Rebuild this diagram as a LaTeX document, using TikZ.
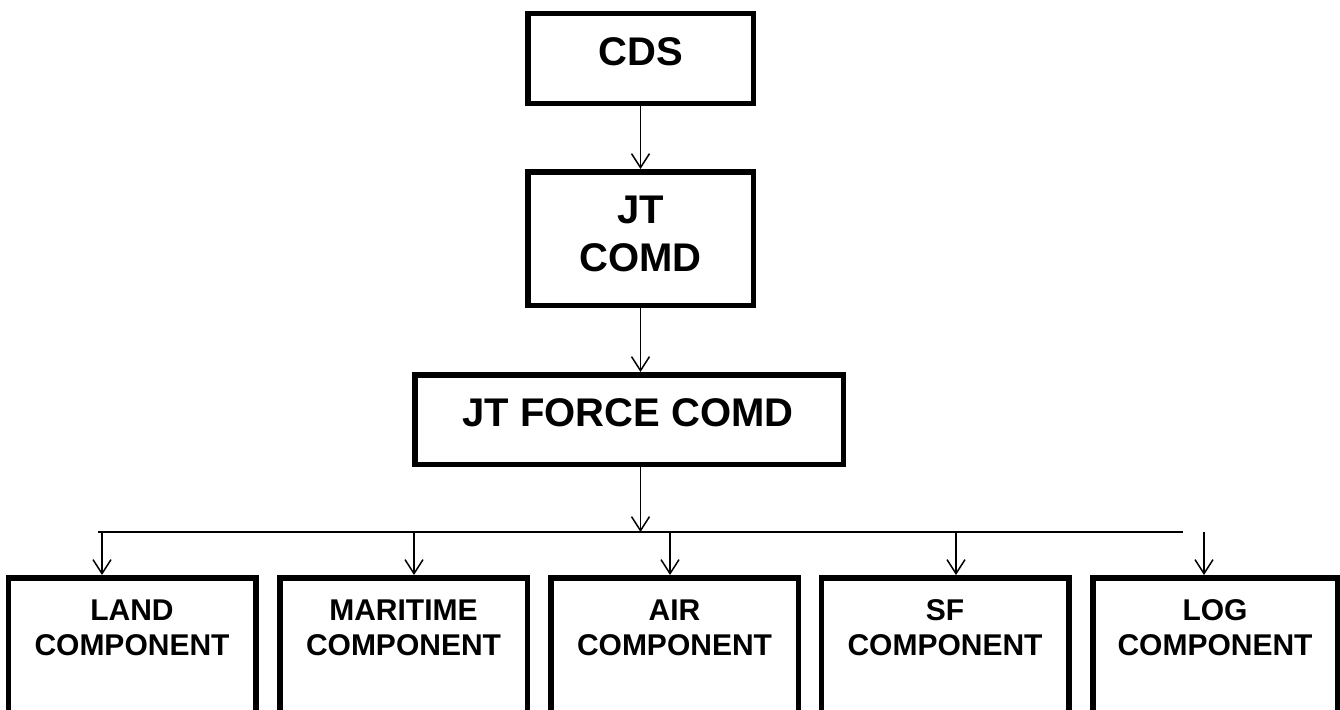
\documentclass[tikz,border=0pt]{standalone}
\usepackage{fontspec}
\setmainfont{Liberation Sans}
\usetikzlibrary{arrows.meta}
\begin{document}
\begin{tikzpicture}[x=1pt,y=-1pt,
  box/.style={draw, line width=5.5pt, inner sep=0pt},
  topbox/.style={box, minimum width=225.5pt},
  botbox/.style={box, minimum width=247.5pt, minimum height=222pt},
  toptext/.style={inner sep=0pt, align=center, font=\fontsize{40}{48.6}\selectfont\bfseries},
  bottext/.style={inner sep=0pt, align=center, font=\fontsize{30}{35}\selectfont\bfseries},
  wire/.style={line width=1.5pt},
  conn/.style={wire, -{Straight Barb[length=14pt,width=18pt,line width=1.5pt]}}]
\useasboundingbox (0,0) rectangle (1340,709);
\clip (0,0) rectangle (1340,709);

% top chain
\node[topbox, minimum height=89.5pt] (cds) at (640.5,58.5) {};
\node[toptext] (cdst) at (640.8,52) {CDS};
\node[topbox, minimum height=133.5pt] (jtc) at (640.5,238.5) {};
\node[toptext] (jtct) at (640.5,234) {JT\\COMD};
\node[box, minimum width=428.5pt, minimum height=89.5pt] (jtf) at (629,419.5) {};
\node[toptext] (jtft) at (628,412.8) {JT FORCE COMD};

% bottom components
\node[botbox] (land) at (132,688.75) {};
\node[bottext] (landt) at (132,627.5) {LAND\\COMPONENT};
\node[botbox] (mari) at (403.5,688.75) {};
\node[bottext] (marit) at (403.5,627.5) {MARITIME\\COMPONENT};
\node[botbox] (air) at (674.5,688.75) {};
\node[bottext] (airt) at (674.5,627.5) {AIR\\COMPONENT};
\node[botbox] (sf) at (945,688.75) {};
\node[bottext] (sft) at (945,627.5) {SF\\COMPONENT};
\node[botbox, minimum width=244.5pt] (log) at (1215,688.75) {};
\node[bottext] (logt) at (1215,627.5) {LOG\\COMPONENT};

% connectors
\coordinate (hub) at (640.5,532);
\coordinate (hl) at (98,532);
\coordinate (hr) at (1183,532);
\coordinate (a1) at (102,532);
\coordinate (a2) at (414,532);
\coordinate (a3) at (670,532);
\coordinate (a4) at (956,532);
\coordinate (a5) at (1204,532);

\draw[conn] (cds.south) -- (cds.south |- jtc.north);
\draw[conn] (jtc.south) -- (jtc.south |- jtf.north);
\draw[conn] (hub |- jtf.south) -- (hub);
\draw[wire] (hl) -- (hr);
\draw[conn] (a1) -- (a1 |- land.north);
\draw[conn] (a2) -- (a2 |- mari.north);
\draw[conn] (a3) -- (a3 |- air.north);
\draw[conn] (a4) -- (a4 |- sf.north);
\draw[conn] (a5) -- (a5 |- log.north);
\end{tikzpicture}
\end{document}
